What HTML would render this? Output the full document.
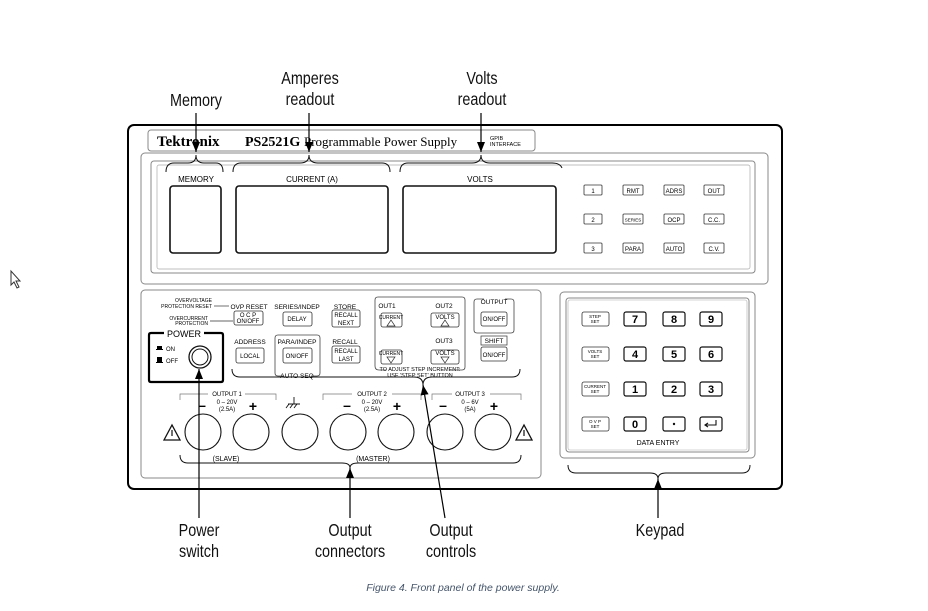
<!DOCTYPE html>
<html><head><meta charset="utf-8"><style>
html,body{margin:0;padding:0;background:#fff;}
svg{display:block;}
.n{font-family:"Liberation Sans",sans-serif;}
.s{font-family:"Liberation Sans",sans-serif;}
</style></head><body>
<svg width="928" height="611" viewBox="0 0 928 611" xmlns="http://www.w3.org/2000/svg">
<defs>
<marker id="a" markerWidth="10" markerHeight="8" refX="10" refY="4" orient="auto" markerUnits="userSpaceOnUse">
<path d="M0,0 L10,4 L0,8 Z" fill="#000"/></marker>
</defs>
<!-- cursor -->
<path d="M11,271 L11,285 L14,282 L17,288 L19,287 L16,281 L20,281 Z" fill="#fff" stroke="#333" stroke-width="1"/>

<!-- big labels (condensed) -->
<g class="n" font-size="18" text-anchor="middle" fill="#111">
<text transform="translate(196,106) scale(0.8,1)">Memory</text>
<text transform="translate(310,84) scale(0.8,1)">Amperes</text><text transform="translate(310,105) scale(0.8,1)">readout</text>
<text transform="translate(482,84) scale(0.8,1)">Volts</text><text transform="translate(482,105) scale(0.8,1)">readout</text>
<text transform="translate(199,536) scale(0.8,1)">Power</text><text transform="translate(199,557) scale(0.8,1)">switch</text>
<text transform="translate(350,536) scale(0.8,1)">Output</text><text transform="translate(350,557) scale(0.8,1)">connectors</text>
<text transform="translate(451,536) scale(0.8,1)">Output</text><text transform="translate(451,557) scale(0.8,1)">controls</text>
<text transform="translate(660,536) scale(0.8,1)">Keypad</text>
</g>
<text x="463" y="591" text-anchor="middle" font-family="Liberation Sans, sans-serif" font-style="italic" font-size="10.5" fill="#44546a">Figure 4. Front panel of the power supply.</text>

<!-- outer frame -->
<rect x="128" y="125" width="654" height="364" rx="6" fill="#fff" stroke="#000" stroke-width="2"/>
<!-- title bar -->
<rect x="148" y="130" width="387" height="21" rx="3" fill="none" stroke="#888" stroke-width="1"/>
<text x="157" y="146" font-family="Liberation Serif,serif" font-weight="bold" font-size="15">Tektronix</text>
<text x="245" y="146" font-family="Liberation Serif,serif" font-weight="bold" font-size="14">PS2521G</text>
<text x="304" y="146" font-family="Liberation Serif,serif" font-size="13">Programmable Power Supply</text>
<text x="490" y="140" class="s" font-size="5.5">GPIB</text>
<text x="490" y="146" class="s" font-size="5.5">INTERFACE</text>

<!-- display area -->
<rect x="141" y="153" width="627" height="131" rx="4" fill="none" stroke="#888"/>
<rect x="151" y="161" width="604" height="112" rx="3" fill="none" stroke="#888"/>
<rect x="157" y="165" width="593" height="104" rx="2" fill="none" stroke="#aaa" stroke-width="0.7"/>
<g fill="#fff" stroke="#111" stroke-width="1.6">
<rect x="170" y="186" width="51" height="67" rx="3"/>
<rect x="236" y="186" width="152" height="67" rx="3"/>
<rect x="403" y="186" width="153" height="67" rx="3"/>
</g>
<g class="s" font-size="8" text-anchor="middle">
<text x="196" y="182">MEMORY</text>
<text x="312" y="182">CURRENT (A)</text>
<text x="480" y="182">VOLTS</text>
</g>
<!-- top braces -->
<g fill="none" stroke="#111" stroke-width="1">
<path d="M166,172 Q166,163 174,163 L188,163 Q196,163 196,155 Q196,163 204,163 L216,163 Q223,163 223,172"/>
<path d="M233,172 Q233,163 241,163 L300,163 Q309,163 309,155 Q309,163 318,163 L382,163 Q390,163 390,172"/>
<path d="M400,172 Q400,163 408,163 L472,163 Q481,163 481,155 Q481,163 490,163 L552,163 Q560,163 562,168"/>
</g>
<!-- top arrows -->
<g stroke="#000" stroke-width="1.2">
<line x1="196" y1="113" x2="196" y2="152" marker-end="url(#a)"/>
<line x1="309" y1="113" x2="309" y2="152" marker-end="url(#a)"/>
<line x1="481" y1="113" x2="481" y2="152" marker-end="url(#a)"/>
</g>
<!-- indicators -->
<g fill="#fff" stroke="#333" stroke-width="0.8">
<rect x="584" y="185" width="18" height="10" rx="1"/><rect x="623" y="185" width="20" height="10" rx="1"/><rect x="664" y="185" width="20" height="10" rx="1"/><rect x="704" y="185" width="20" height="10" rx="1"/>
<rect x="584" y="214" width="18" height="10" rx="1"/><rect x="623" y="214" width="20" height="10" rx="1"/><rect x="664" y="214" width="20" height="10" rx="1"/><rect x="704" y="214" width="20" height="10" rx="1"/>
<rect x="584" y="243" width="18" height="10" rx="1"/><rect x="623" y="243" width="20" height="10" rx="1"/><rect x="664" y="243" width="20" height="10" rx="1"/><rect x="704" y="243" width="20" height="10" rx="1"/>
</g>
<g class="s" font-size="6" text-anchor="middle">
<text x="593" y="193">1</text><text x="633" y="193">RMT</text><text x="674" y="193">ADRS</text><text x="714" y="193">OUT</text>
<text x="593" y="222">2</text><text x="633" y="221.5" font-size="4.5">SERIES</text><text x="674" y="222">OCP</text><text x="714" y="222">C.C.</text>
<text x="593" y="251">3</text><text x="633" y="251">PARA</text><text x="674" y="251">AUTO</text><text x="714" y="251">C.V.</text>
</g>

<!-- lower-left panel -->
<rect x="141" y="290" width="400" height="188" rx="4" fill="none" stroke="#888"/>
<g class="s" font-size="5" text-anchor="end">
<text x="212" y="302">OVERVOLTAGE</text><text x="212" y="308">PROTECTION RESET</text>
<text x="208" y="320">OVERCURRENT</text><text x="208" y="325">PROTECTION</text>
</g>
<g stroke="#333" stroke-width="0.7"><line x1="214" y1="306" x2="229" y2="306"/><line x1="210" y1="321" x2="233" y2="321"/></g>
<g class="s" font-size="6.5" text-anchor="middle">
<text x="249" y="309">OVP  RESET</text>
<text x="297" y="309">SERIES/INDEP</text>
<text x="345" y="309">STORE</text>
<text x="250" y="344">ADDRESS</text>
<text x="297" y="344">PARA/INDEP</text>
<text x="345" y="344">RECALL</text>
<text x="387" y="308">OUT1</text><text x="444" y="308">OUT2</text><text x="444" y="343">OUT3</text>
<text x="494" y="304">OUTPUT</text>
<text x="494" y="343">SHIFT</text>
<text x="297" y="378">AUTO SEQ</text>
<text x="420" y="371" font-size="5.5">TO ADJUST STEP INCREMENT:</text>
<text x="420" y="377" font-size="5.5">USE 'STEP SET' BUTTON</text>
</g>
<rect x="481" y="336" width="26" height="9" fill="none" stroke="#333" stroke-width="0.7"/>
<!-- grouping boxes -->
<g fill="none" stroke="#444" stroke-width="0.8">
<path d="M452,370 L462,370 Q465,370 465,367 L465,300 Q465,297 462,297 L378,297 Q375,297 375,300 L375,366 Q375,370 379,370 L386,370"/>
<path d="M484,299 L477,299 Q474,299 474,302 L474,330 Q474,333 477,333 L511,333 Q514,333 514,330 L514,302 Q514,299 511,299 L505,299"/>
<path d="M284,376 L278,376 Q275,376 275,373 L275,338 Q275,335 278,335 L317,335 Q320,335 320,338 L320,373 Q320,376 317,376 L311,376"/>
</g>
<!-- buttons -->
<g fill="#fff" stroke="#333" stroke-width="0.8">
<rect x="234" y="311" width="29" height="14" rx="2"/>
<rect x="283" y="312" width="29" height="14" rx="2"/>
<rect x="332" y="310" width="28" height="17" rx="2"/>
<rect x="381" y="313" width="21" height="14" rx="2"/>
<rect x="431" y="313" width="28" height="14" rx="2"/>
<rect x="481" y="312" width="26" height="14" rx="2"/>
<rect x="236" y="348" width="28" height="15" rx="2"/>
<rect x="283" y="348" width="29" height="15" rx="2"/>
<rect x="332" y="346" width="28" height="17" rx="2"/>
<rect x="381" y="350" width="21" height="14" rx="2"/>
<rect x="431" y="350" width="28" height="14" rx="2"/>
<rect x="481" y="347" width="26" height="14" rx="2"/>
</g>
<g class="s" font-size="6" text-anchor="middle">
<text x="248" y="317">O C P</text><text x="248" y="323">ON/OFF</text>
<text x="297" y="321">DELAY</text>
<text x="346" y="317">RECALL</text><text x="346" y="325">NEXT</text>
<text x="391" y="319" font-size="5">CURRENT</text><text x="445" y="319">VOLTS</text>
<text x="494" y="321">ON/OFF</text>
<text x="250" y="358">LOCAL</text>
<text x="297" y="358">ON/OFF</text>
<text x="346" y="353">RECALL</text><text x="346" y="361">LAST</text>
<text x="391" y="355" font-size="5">CURRENT</text><text x="445" y="355">VOLTS</text>
<text x="494" y="357">ON/OFF</text>
</g>
<g fill="none" stroke="#333" stroke-width="0.7">
<path d="M387,326 L391,320 L395,326 Z"/><path d="M441,326 L445,320 L449,326 Z"/>
<path d="M387,357 L391,363 L395,357 Z"/><path d="M441,357 L445,363 L449,357 Z"/>
</g>
<!-- POWER -->
<path d="M164,333 L151,333 Q149,333 149,335 L149,380 Q149,382 151,382 L221,382 Q223,382 223,380 L223,335 Q223,333 221,333 L204,333" fill="none" stroke="#000" stroke-width="2.2"/>
<text x="184" y="337" class="s" font-size="9" text-anchor="middle">POWER</text>
<rect x="157" y="346" width="5" height="3" fill="#000"/><rect x="156" y="349" width="7" height="1" fill="#000"/>
<rect x="157" y="357" width="5" height="5" fill="#000"/><rect x="156" y="362" width="7" height="1" fill="#000"/>
<text x="166" y="351" class="s" font-size="6">ON</text><text x="166" y="363" class="s" font-size="6">OFF</text>
<circle cx="200" cy="357" r="11" fill="#fff" stroke="#111" stroke-width="1.3"/>
<circle cx="200" cy="357" r="8" fill="none" stroke="#111" stroke-width="1"/>
<!-- controls brace -->
<path d="M232,369 Q232,377 240,377 L414,377 Q423,377 423,385 Q423,377 432,377 L512,377 Q520,377 520,369" fill="none" stroke="#111" stroke-width="1"/>

<!-- output groups -->
<g fill="none" stroke="#777" stroke-width="0.7">
<path d="M180,400 L180,394 L208,394"/><path d="M245,394 L276,394 L276,400"/>
<path d="M323,400 L323,394 L352,394"/><path d="M392,394 L421,394 L421,400"/>
<path d="M432,400 L432,394 L452,394"/><path d="M490,394 L521,394 L521,400"/>
</g>
<g class="s" font-size="6" text-anchor="middle">
<text x="227" y="396">OUTPUT 1</text><text x="227" y="404">0 – 20V</text><text x="227" y="411">(2.5A)</text>
<text x="372" y="396">OUTPUT 2</text><text x="372" y="404">0 – 20V</text><text x="372" y="411">(2.5A)</text>
<text x="470" y="396">OUTPUT 3</text><text x="470" y="404">0 – 6V</text><text x="470" y="411">(5A)</text>
<text x="226" y="461" font-size="7">(SLAVE)</text><text x="373" y="461" font-size="7">(MASTER)</text>
</g>
<g class="s" font-size="14" font-weight="bold" text-anchor="middle">
<text x="202" y="410">–</text><text x="253" y="411">+</text>
<text x="347" y="410">–</text><text x="397" y="411">+</text>
<text x="443" y="410">–</text><text x="494" y="411">+</text>
</g>
<g stroke="#111" stroke-width="0.9" fill="none"><path d="M288,404 L300,404 M294,404 L294,397 M289,404 L286,408 M293,404 L290,408 M297,404 L294,408"/></g>
<g fill="#fff" stroke="#111" stroke-width="1.1">
<circle cx="203" cy="432" r="18"/><circle cx="251" cy="432" r="18"/><circle cx="300" cy="432" r="18"/>
<circle cx="348" cy="432" r="18"/><circle cx="396" cy="432" r="18"/><circle cx="445" cy="432" r="18"/><circle cx="493" cy="432" r="18"/>
</g>
<g fill="none" stroke="#111" stroke-width="1.3">
<path d="M164,440 L172,425 L180,440 Z"/><path d="M516,440 L524,425 L532,440 Z"/>
</g>
<g stroke="#111" stroke-width="1.2"><line x1="172" y1="430" x2="172" y2="436"/><line x1="524" y1="430" x2="524" y2="436"/></g>
<path d="M180,455 Q180,463 188,463 L342,463 Q350,463 350,468 Q350,463 358,463 L513,463 Q521,463 521,455" fill="none" stroke="#111" stroke-width="1"/>

<!-- keypad -->
<rect x="560" y="292" width="195" height="166" rx="4" fill="none" stroke="#888"/>
<rect x="566" y="298" width="183" height="154" rx="3" fill="none" stroke="#888"/>
<rect x="568" y="300" width="179" height="150" rx="2" fill="none" stroke="#aaa" stroke-width="0.6"/>
<g fill="#fff" stroke="#333" stroke-width="0.8">
<rect x="582" y="312" width="27" height="14" rx="2"/><rect x="582" y="347" width="27" height="14" rx="2"/>
<rect x="582" y="382" width="27" height="14" rx="2"/><rect x="582" y="417" width="27" height="14" rx="2"/>
</g>
<g fill="#fff" stroke="#111" stroke-width="1.2">
<rect x="624" y="312" width="22" height="14" rx="2"/><rect x="663" y="312" width="22" height="14" rx="2"/><rect x="700" y="312" width="22" height="14" rx="2"/>
<rect x="624" y="347" width="22" height="14" rx="2"/><rect x="663" y="347" width="22" height="14" rx="2"/><rect x="700" y="347" width="22" height="14" rx="2"/>
<rect x="624" y="382" width="22" height="14" rx="2"/><rect x="663" y="382" width="22" height="14" rx="2"/><rect x="700" y="382" width="22" height="14" rx="2"/>
<rect x="624" y="417" width="22" height="14" rx="2"/><rect x="663" y="417" width="22" height="14" rx="2"/><rect x="700" y="417" width="22" height="14" rx="2"/>
</g>
<g class="s" font-size="4.5" text-anchor="middle">
<text x="595" y="318">STEP</text><text x="595" y="323">SET</text>
<text x="595" y="353">VOLTS</text><text x="595" y="358">SET</text>
<text x="595" y="388">CURRENT</text><text x="595" y="393">SET</text>
<text x="595" y="423">O V P</text><text x="595" y="428">SET</text>
</g>
<g class="s" font-size="11" font-weight="bold" text-anchor="middle">
<text x="635" y="323">7</text><text x="674" y="323">8</text><text x="711" y="323">9</text>
<text x="635" y="358">4</text><text x="674" y="358">5</text><text x="711" y="358">6</text>
<text x="635" y="393">1</text><text x="674" y="393">2</text><text x="711" y="393">3</text>
<text x="635" y="428">0</text>
</g>
<circle cx="674" cy="424" r="1.2" fill="#111"/>
<path d="M716,420 L716,425 L705,425 M708,423 L705,425 L708,427" fill="none" stroke="#111" stroke-width="1.1"/>
<text x="658" y="445" class="s" font-size="7" text-anchor="middle">DATA ENTRY</text>
<path d="M568,465 Q568,473 576,473 L650,473 Q658,473 658,479 Q658,473 666,473 L742,473 Q750,473 750,465" fill="none" stroke="#111" stroke-width="1"/>

<!-- bottom arrows -->
<g stroke="#000" stroke-width="1.2">
<line x1="199" y1="518" x2="199" y2="369" marker-end="url(#a)"/>
<line x1="350" y1="518" x2="350" y2="468" marker-end="url(#a)"/>
<line x1="445" y1="518" x2="423" y2="385" marker-end="url(#a)"/>
<line x1="658" y1="518" x2="658" y2="479" marker-end="url(#a)"/>
</g>
</svg>
</body></html>
